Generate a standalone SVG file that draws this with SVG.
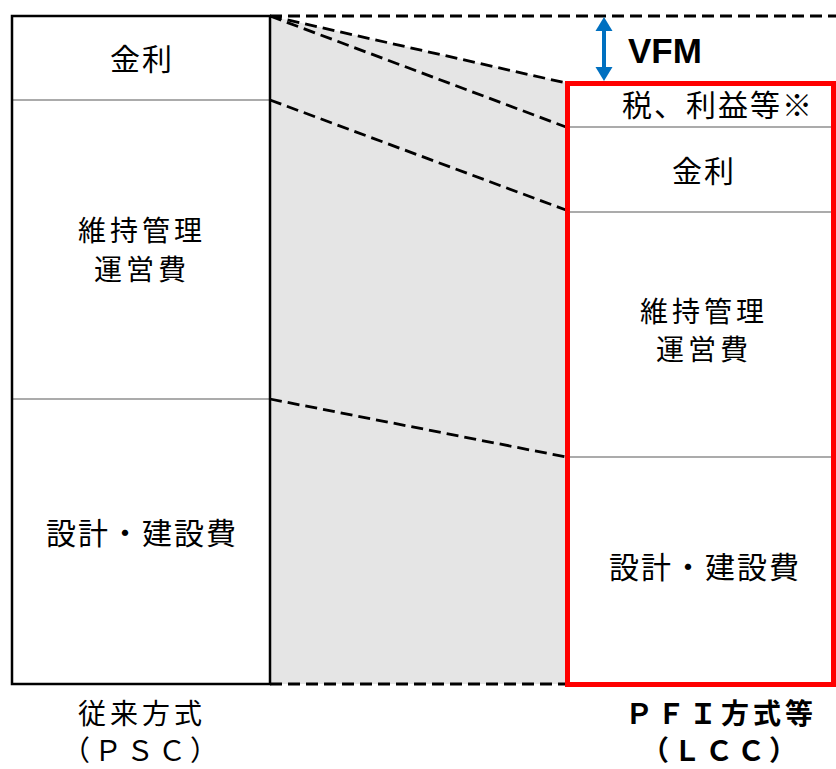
<svg xmlns="http://www.w3.org/2000/svg" width="836" height="769" viewBox="0 0 836 769">
<style>
.t{font-family:"Noto Sans CJK JP","Noto Sans",sans-serif;font-size:30px;letter-spacing:2px;text-anchor:middle;fill:#000}
.s{font-size:28px;letter-spacing:4px}
.b{font-weight:bold}
.dash{stroke:#000;stroke-width:2.8;stroke-dasharray:12 6;fill:none}
.div{stroke:#595959;stroke-width:1.2}
</style>
<rect width="836" height="769" fill="#fff"/>
<polygon points="270,16 567,83 567,684 270,684" fill="#e5e5e5"/>
<g id="connectors">
<line class="dash" x1="270" y1="16" x2="836" y2="16"/>
<line class="dash" x1="270" y1="16" x2="566" y2="83"/>
<line class="dash" x1="270" y1="16" x2="566" y2="127"/>
<line class="dash" x1="270" y1="100" x2="566" y2="210"/>
<line class="dash" x1="270" y1="399" x2="566" y2="457"/>
<line class="dash" x1="270" y1="684" x2="566" y2="684"/>
</g>
<g id="psc">
<rect x="12" y="16" width="258" height="668" fill="#fff" stroke="none"/>
<line class="div" x1="12" y1="100" x2="270" y2="100"/>
<line class="div" x1="12" y1="399" x2="270" y2="399"/>
<rect x="12" y="16" width="258" height="668" fill="none" stroke="#000" stroke-width="2.5"/>
<text class="t" x="142" y="70">金利</text>
<text class="t s" x="142" y="241">維持管理</text>
<text class="t s" x="142" y="280">運営費</text>
<text class="t" x="142" y="544">設計・建設費</text>
</g>
<g id="lcc">
<rect x="567.5" y="83.5" width="266" height="601" fill="#fff" stroke="none"/>
<line class="div" x1="567" y1="127" x2="834" y2="127"/>
<line class="div" x1="567" y1="212" x2="834" y2="212"/>
<line class="div" x1="567" y1="457" x2="834" y2="457"/>
<rect x="567.5" y="83.5" width="266" height="601" fill="none" stroke="#ff0000" stroke-width="5"/>
<text class="t" x="718" y="116">税、利益等※</text>
<text class="t" x="704" y="182">金利</text>
<text class="t s" x="704" y="322">維持管理</text>
<text class="t s" x="704" y="360">運営費</text>
<text class="t" x="705" y="578">設計・建設費</text>
</g>
<g id="vfm">
<line x1="604" y1="28" x2="604" y2="70" stroke="#0070c0" stroke-width="4"/>
<polygon points="604,17 612.5,31 595.5,31" fill="#0070c0"/>
<polygon points="604,81 612.5,67 595.5,67" fill="#0070c0"/>
<text x="628" y="63" font-family="Liberation Sans,Arial,sans-serif" font-weight="bold" font-size="35" fill="#000">VFM</text>
</g>
<g id="labels">
<text class="t s" x="142" y="724">従来方式</text>
<text class="t s" x="142" y="761">（ＰＳＣ）</text>
<text class="t s b" x="721" y="724">ＰＦＩ方式等</text>
<text class="t s b" x="721" y="761">（ＬＣＣ）</text>
</g>
</svg>
